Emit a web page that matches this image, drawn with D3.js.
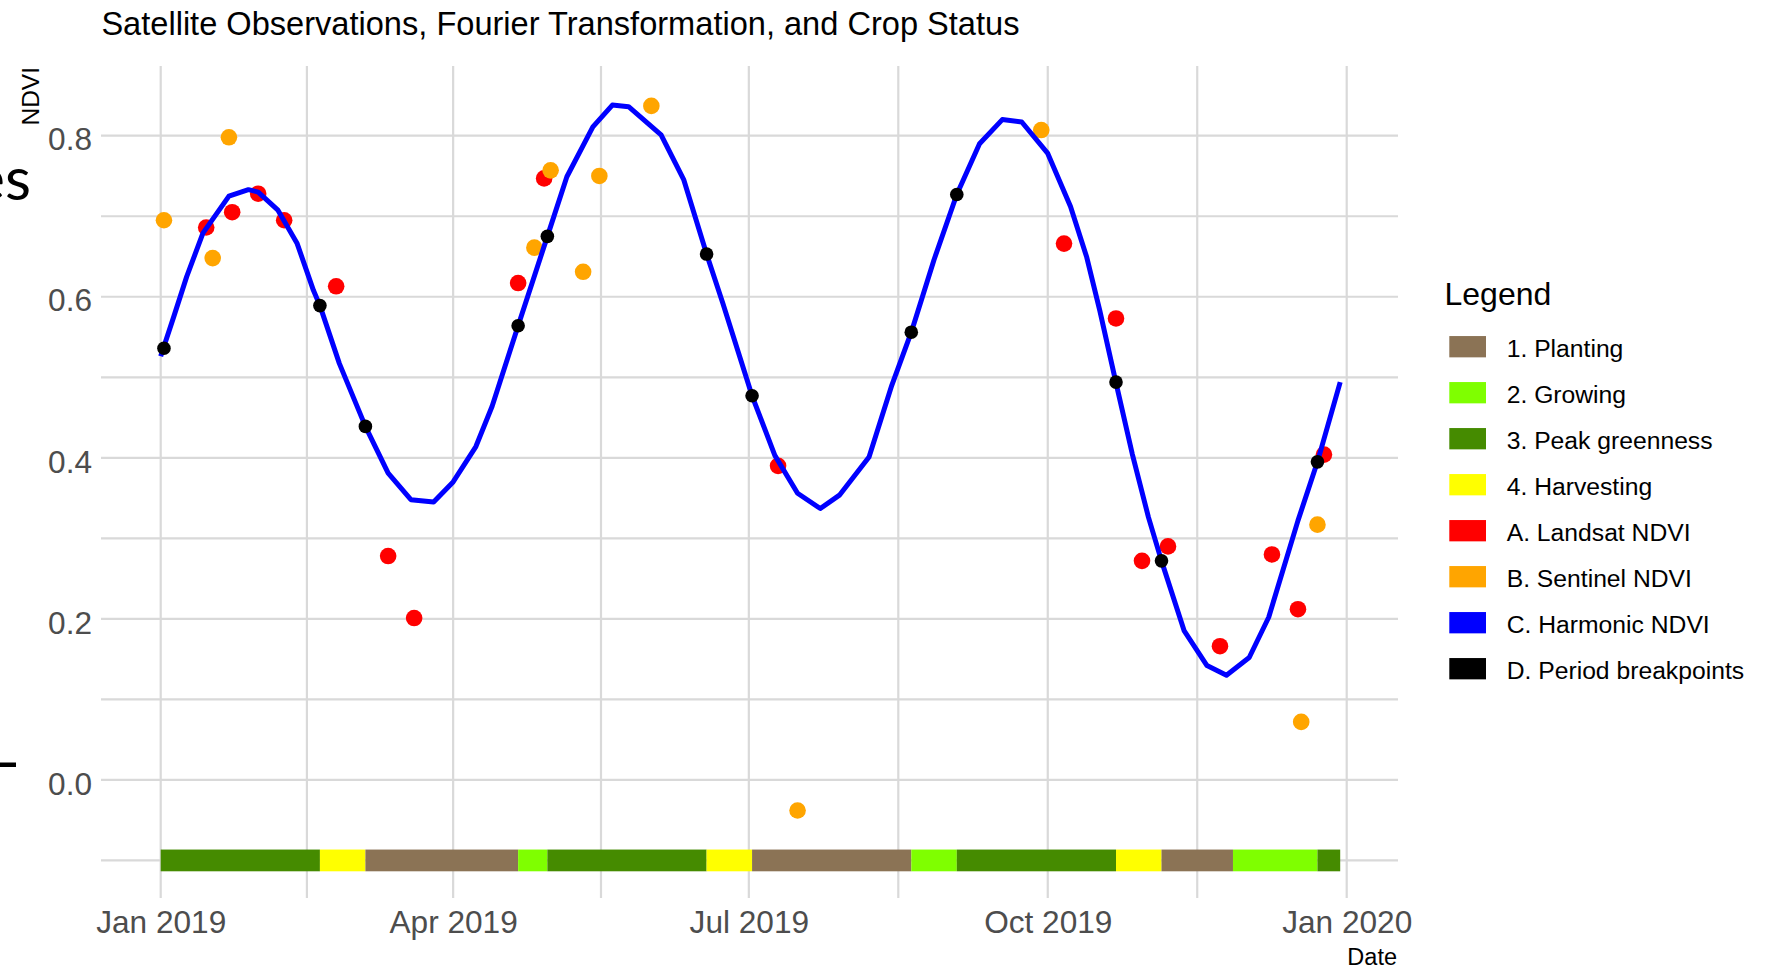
<!DOCTYPE html>
<html>
<head>
<meta charset="utf-8">
<script src="https://cdn.jsdelivr.net/npm/d3@7"></script>
<style>
  body { margin: 0; background: #ffffff; }
  svg { display: block; font-family: "Liberation Sans", Arial, sans-serif; }
</style>
</head>
<body>
<svg id="chart" width="1767" height="968"></svg>
<script>
// ---------------- DATA ----------------
const harmonicDates = ["2019-01-01","2019-01-05","2019-01-09","2019-01-14","2019-01-22","2019-01-28","2019-01-31",
  "2019-02-06","2019-02-12","2019-02-17","2019-02-19","2019-02-25","2019-03-05","2019-03-12","2019-03-19","2019-03-26",
  "2019-04-01","2019-04-08","2019-04-13","2019-04-21","2019-04-30","2019-05-06","2019-05-14","2019-05-20","2019-05-25",
  "2019-06-04","2019-06-11","2019-06-18","2019-06-23","2019-07-02","2019-07-09","2019-07-16","2019-07-23","2019-07-29",
  "2019-08-07","2019-08-14","2019-08-20","2019-08-27","2019-09-03","2019-09-10","2019-09-17","2019-09-23","2019-10-01",
  "2019-10-08","2019-10-13","2019-10-17","2019-10-22","2019-10-27","2019-11-01","2019-11-05","2019-11-12","2019-11-19",
  "2019-11-25","2019-12-02","2019-12-08","2019-12-17","2019-12-23","2019-12-30"];
const harmonicNDVI = [0.526,0.575,0.625,0.679,0.725,0.733,0.730,
  0.708,0.666,0.608,0.589,0.517,0.439,0.381,0.348,0.345,
  0.370,0.414,0.464,0.564,0.675,0.749,0.811,0.838,0.836,
  0.801,0.745,0.653,0.592,0.477,0.403,0.356,0.337,0.354,
  0.401,0.490,0.556,0.646,0.727,0.790,0.820,0.817,0.778,
  0.712,0.649,0.583,0.493,0.405,0.326,0.272,0.185,0.142,
  0.130,0.152,0.202,0.322,0.395,0.494];

const landsatDates = ["2019-01-15","2019-01-23","2019-01-31","2019-02-08","2019-02-24","2019-03-12","2019-03-20",
  "2019-04-21","2019-04-29","2019-07-10","2019-10-06","2019-10-22","2019-10-30","2019-11-07","2019-11-23",
  "2019-12-09","2019-12-17","2019-12-25"];
const landsatNDVI = [0.686,0.705,0.728,0.695,0.613,0.278,0.201,
  0.617,0.747,0.390,0.666,0.573,0.272,0.290,0.166,
  0.280,0.212,0.404];

const sentinelDates = ["2019-01-02","2019-01-17","2019-01-22","2019-04-26","2019-05-01","2019-05-11","2019-05-16",
  "2019-06-01","2019-07-16","2019-09-29","2019-12-18","2019-12-23"];
const sentinelNDVI = [0.695,0.648,0.798,0.661,0.757,0.631,0.750,
  0.837,-0.038,0.807,0.072,0.317];

const breakpointDates = ["2019-01-02","2019-02-19","2019-03-05","2019-04-21","2019-04-30","2019-06-18",
  "2019-07-02","2019-08-20","2019-09-03","2019-10-22","2019-11-05","2019-12-23"];
const breakpointNDVI = [0.536,0.589,0.439,0.564,0.675,0.653,
  0.477,0.556,0.727,0.494,0.272,0.395];

const statusStart = ["2019-01-01","2019-02-19","2019-03-05","2019-04-21","2019-04-30","2019-06-18","2019-07-02",
  "2019-08-20","2019-09-03","2019-10-22","2019-11-05","2019-11-27","2019-12-23"];
const statusEnd   = ["2019-02-19","2019-03-05","2019-04-21","2019-04-30","2019-06-18","2019-07-02","2019-08-20",
  "2019-09-03","2019-10-22","2019-11-05","2019-11-27","2019-12-23","2019-12-30"];
const statusPhase = ["3. Peak greenness","4. Harvesting","1. Planting","2. Growing","3. Peak greenness","4. Harvesting",
  "1. Planting","2. Growing","3. Peak greenness","4. Harvesting","1. Planting","2. Growing","3. Peak greenness"];
const statusLevel = -0.1;

const legendLabels = ["1. Planting","2. Growing","3. Peak greenness","4. Harvesting",
  "A. Landsat NDVI","B. Sentinel NDVI","C. Harmonic NDVI","D. Period breakpoints"];
const legendColors = ["#8B7355","#7FFF00","#458B00","#FFFF00","#FF0000","#FFA500","#0000FF","#000000"];

const xTickDates = ["2019-01-01","2019-04-01","2019-07-01","2019-10-01","2020-01-01"];
const yTickValues = [0.0, 0.2, 0.4, 0.6, 0.8];
const yMinorValues = [-0.1, 0.1, 0.3, 0.5, 0.7];

const titleText = "Satellite Observations, Fourier Transformation, and Crop Status";
const xTitle = "Date";
const yTitle = "NDVI";
const legendTitle = "Legend";

// ---------------- LAYOUT ----------------
const parse = d3.utcParse("%Y-%m-%d");
const panel = { left: 101, right: 1398, top: 66, bottom: 898 };
const svg = d3.select("#chart");

const x = d3.scaleUtc()
  .domain([parse("2019-01-01"), parse("2020-01-01")])
  .range([160.7, 1346.7]);
const y = d3.scaleLinear().domain([0, 0.8]).range([779.9, 135.7]);

const colorOf = d3.scaleOrdinal().domain(legendLabels).range(legendColors);

const xMajor = xTickDates.map(parse);
const xMinor = d3.pairs(xMajor).map(([a, b]) => new Date((+a + +b) / 2));

// background fragments visible in the original screenshot
svg.append("text").attr("x", 31).attr("y", 200).attr("text-anchor", "end")
  .style("font-family", "Lato, 'Open Sans', sans-serif").style("font-size", "60px").attr("fill", "#000")
  .text("es");
svg.append("rect").attr("x", 0).attr("y", 762.5).attr("width", 16).attr("height", 4.5).attr("fill", "#000");

// ---------------- GRID ----------------
const grid = svg.append("g").attr("stroke", "#d9d9d9").attr("stroke-width", 2.2);
grid.selectAll("line.hmin").data(yMinorValues).join("line")
  .attr("x1", panel.left).attr("x2", panel.right)
  .attr("y1", d => y(d)).attr("y2", d => y(d));
grid.selectAll("line.hmaj").data(yTickValues).join("line")
  .attr("x1", panel.left).attr("x2", panel.right)
  .attr("y1", d => y(d)).attr("y2", d => y(d));
grid.selectAll("line.vmin").data(xMinor.concat(xMajor)).join("line")
  .attr("y1", panel.top).attr("y2", panel.bottom)
  .attr("x1", d => x(d)).attr("x2", d => x(d));

// ---------------- STATUS BAR ----------------
const statusData = statusStart.map((s, i) => ({ s: parse(s), e: parse(statusEnd[i]), p: statusPhase[i] }));
const barHalf = 0.0135;
svg.append("g").selectAll("rect").data(statusData).join("rect")
  .attr("x", d => x(d.s))
  .attr("width", d => x(d.e) - x(d.s))
  .attr("y", y(statusLevel + barHalf))
  .attr("height", y(statusLevel - barHalf) - y(statusLevel + barHalf))
  .attr("fill", d => colorOf(d.p));

// ---------------- POINTS & LINE ----------------
const landsat = landsatDates.map((d, i) => ({ d: parse(d), v: landsatNDVI[i] }));
const sentinel = sentinelDates.map((d, i) => ({ d: parse(d), v: sentinelNDVI[i] }));
const harmonic = harmonicDates.map((d, i) => ({ d: parse(d), v: harmonicNDVI[i] }));
const breaks = breakpointDates.map((d, i) => ({ d: parse(d), v: breakpointNDVI[i] }));

svg.append("g").selectAll("circle").data(landsat).join("circle")
  .attr("cx", d => x(d.d)).attr("cy", d => y(d.v)).attr("r", 8.3)
  .attr("fill", colorOf("A. Landsat NDVI"));
svg.append("g").selectAll("circle").data(sentinel).join("circle")
  .attr("cx", d => x(d.d)).attr("cy", d => y(d.v)).attr("r", 8.3)
  .attr("fill", colorOf("B. Sentinel NDVI"));

svg.append("path").datum(harmonic)
  .attr("d", d3.line().x(d => x(d.d)).y(d => y(d.v)))
  .attr("fill", "none").attr("stroke", colorOf("C. Harmonic NDVI"))
  .attr("stroke-width", 5).attr("stroke-linejoin", "round");

svg.append("g").selectAll("circle").data(breaks).join("circle")
  .attr("cx", d => x(d.d)).attr("cy", d => y(d.v)).attr("r", 6.8)
  .attr("fill", colorOf("D. Period breakpoints"));

// ---------------- AXES ----------------
const xAxis = svg.append("g").attr("transform", `translate(0,${panel.bottom})`)
  .call(d3.axisBottom(x).tickValues(xMajor).tickFormat(d3.utcFormat("%b %Y")).tickSize(0).tickPadding(13));
const yAxis = svg.append("g").attr("transform", `translate(${panel.left},0)`)
  .call(d3.axisLeft(y).tickValues(yTickValues).tickFormat(d3.format(".1f")).tickSize(0).tickPadding(9));
[xAxis, yAxis].forEach(g => {
  g.select(".domain").remove();
  g.attr("font-family", "'Liberation Sans', Arial, sans-serif").attr("font-size", 31.6);
  g.selectAll("text").attr("fill", "#4D4D4D");
});
yAxis.selectAll("text").attr("dy", "0.45em");

// ---------------- TITLES ----------------
svg.append("text").attr("x", 101.4).attr("y", 35)
  .style("font-size", "32.6px").attr("fill", "#000").text(titleText);
svg.append("text").attr("x", panel.right - 1).attr("y", 964.5).attr("text-anchor", "end")
  .style("font-size", "23.5px").attr("fill", "#000").text(xTitle);
svg.append("text").attr("transform", `translate(38.5,${panel.top + 1}) rotate(-90)`).attr("text-anchor", "end")
  .style("font-size", "24.5px").attr("fill", "#000").text(yTitle);

// ---------------- LEGEND ----------------
const legend = svg.append("g");
legend.append("text").attr("x", 1444.5).attr("y", 305).style("font-size", "32px").attr("fill", "#000").text(legendTitle);
const rows = legend.selectAll("g.row").data(legendLabels).join("g")
  .attr("transform", (d, i) => `translate(0,${346.7 + i * 46})`);
rows.append("rect").attr("x", 1449.3).attr("y", -10.65).attr("width", 36.7).attr("height", 21.3)
  .attr("fill", d => colorOf(d));
rows.append("text").attr("x", 1506.7).attr("y", 9.8).style("font-size", "24.7px").attr("fill", "#000").text(d => d);
</script>
</body>
</html>
